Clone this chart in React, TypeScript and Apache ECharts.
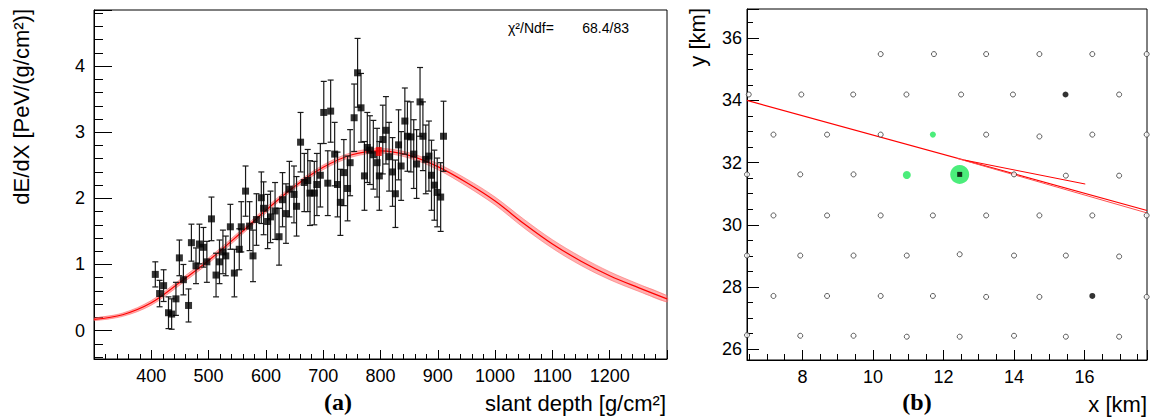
import React, { useEffect, useRef } from "react";
import * as echarts from "echarts";

// ---------- panel (a): longitudinal profile ----------
const depth = [
  407, 414.5, 421.5, 430, 435.5, 443, 449, 456, 465, 470, 478, 484, 491, 497, 505, 513, 519, 525, 530, 538,
  545, 553.5, 557, 564.5, 571.5, 577.5, 583.5, 592, 596, 603, 608, 616, 623, 629, 635, 641, 649, 653.5, 660.5, 667,
  673, 677, 684.5, 689, 695, 701, 708, 713, 720, 725, 730, 736, 742.5, 747, 754, 760, 766, 772, 777, 781.5,
  787.5, 794, 798, 804, 809.5, 815, 821, 826, 831.5, 836, 842.5, 847, 853, 858, 863, 869, 874, 879, 884.5, 889,
  894, 899, 905, 910,
];
const dedx = [
  0.85, 0.56, 0.68, 0.27, 0.25, 0.48, 1.1, 0.77, 0.38, 1.33, 0.98, 1.31, 1.26, 1.04, 1.69, 0.84, 1.04, 1.19, 1.13, 1.57,
  0.87, 1.23, 1.57, 2.11, 1.58, 1.13, 1.68, 2.01, 1.85, 1.65, 1.72, 1.81, 1.42, 1.98, 1.77, 2.14, 2.06, 1.88, 2.85, 2.24,
  2.27, 2.08, 2.08, 2.21, 2.35, 3.3, 2.23, 3.32, 2.67, 2.21, 1.94, 2.39, 2.15, 2.54, 3.22, 3.9, 3.37, 2.34, 2.77, 2.73,
  2.66, 2.54, 2.34, 2.89, 3.03, 2.63, 2.4, 2.07, 2.81, 2.49, 3.17, 2.94, 2.93, 2.67, 2.52, 3.46, 2.94, 2.59, 2.64, 2.35,
  2.2, 2.09, 2.02, 2.94,
];
const dedxErr = [
  0.19, 0.2, 0.24, 0.24, 0.23, 0.25, 0.27, 0.23, 0.25, 0.28, 0.27, 0.3, 0.3, 0.31, 0.33, 0.33, 0.33, 0.33, 0.3, 0.34,
  0.36, 0.31, 0.38, 0.38, 0.37, 0.39, 0.39, 0.39, 0.4, 0.41, 0.39, 0.43, 0.43, 0.41, 0.45, 0.42, 0.43, 0.45, 0.45, 0.44,
  0.47, 0.49, 0.48, 0.47, 0.48, 0.47, 0.49, 0.47, 0.48, 0.49, 0.5, 0.5, 0.49, 0.5, 0.51, 0.52, 0.52, 0.52, 0.53, 0.52,
  0.52, 0.52, 0.52, 0.52, 0.51, 0.52, 0.52, 0.51, 0.53, 0.52, 0.5, 0.53, 0.53, 0.52, 0.52, 0.52, 0.52, 0.52, 0.53, 0.53,
  0.53, 0.52, 0.52, 0.53,
];

// fitted profile and its uncertainty band
const fitDepth = [300, 350, 400, 450, 500, 550, 600, 650, 700, 750, 800, 850, 900, 950, 1000, 1050, 1100, 1150, 1200, 1250, 1300];
const fitValue = [0.17, 0.24, 0.42, 0.73, 1.06, 1.43, 1.82, 2.18, 2.47, 2.66, 2.72, 2.65, 2.48, 2.24, 1.96, 1.62, 1.31, 1.05, 0.83, 0.65, 0.48];
const fitBandHalf = [0.02, 0.025, 0.035, 0.04, 0.04, 0.04, 0.04, 0.035, 0.035, 0.035, 0.035, 0.04, 0.045, 0.055, 0.06, 0.065, 0.065, 0.065, 0.06, 0.055, 0.05];
const xmaxPoint = [797, 2.71];

const chi2Label = "χ²/Ndf=";
const chi2Value = "68.4/83";

// ---------- panel (b): footprint ----------
const openStations = [
  [10.22, 35.49], [11.73, 35.49], [13.21, 35.49], [14.72, 35.49], [16.22, 35.49], [17.76, 35.49],
  [6.48, 34.19], [7.97, 34.19], [9.44, 34.19], [10.95, 34.19], [12.5, 34.19], [13.97, 34.19], [16.98, 34.19],
  [7.18, 32.9], [8.7, 32.9], [10.22, 32.9], [13.21, 32.9], [14.72, 32.84], [16.22, 32.9], [17.76, 32.9],
  [6.43, 31.62], [7.94, 31.62], [9.45, 31.62], [14.0, 31.62], [15.47, 31.58], [16.98, 31.58],
  [7.18, 30.3], [8.7, 30.3], [10.22, 30.3], [11.7, 30.3], [13.21, 30.3], [14.72, 30.3], [16.22, 30.3], [17.76, 30.3],
  [6.43, 29.01], [7.94, 29.01], [9.45, 29.01], [10.96, 29.01], [12.46, 29.05], [14.0, 29.01], [15.47, 29.01], [16.98, 28.98],
  [7.18, 27.71], [8.7, 27.71], [10.22, 27.71], [11.7, 27.71], [13.21, 27.68], [14.72, 27.68], [17.76, 27.68],
  [6.43, 26.45], [7.94, 26.43], [9.45, 26.43], [10.96, 26.4], [12.46, 26.4], [14.0, 26.43], [15.47, 26.4], [16.98, 26.4],
];
const filledStations = [[15.46, 34.19], [16.22, 27.71]];
const greenStations = [[11.7, 32.9, 6], [10.96, 31.6, 8], [12.46, 31.62, 19]];
const coreStation = [12.46, 31.62];
const axisLineA = [[6.43, 34.0], [17.77, 30.46]];
const axisLineA2 = [[12.4, 32.13], [17.77, 30.38]];
const axisLineB = [[12.6, 32.08], [16.02, 31.31]];

const FONT = '"Liberation Sans", Arial, sans-serif';

export default function App() {
  const ref = useRef<HTMLDivElement>(null);
  useEffect(() => {
    if (!ref.current) return;
    const chart = echarts.init(ref.current, undefined, { renderer: "svg" });

    const fitLine = fitDepth.map((d, i) => [d, fitValue[i]]);
    const points = depth.map((d, i) => [d, dedx[i], dedxErr[i]]);

    const axisCommon = (tickLen: number, minorLen: number, minorSplit: number) => ({
      axisLine: { show: true, onZero: false, lineStyle: { color: "#000", width: 1 } },
      axisTick: { show: true, inside: true, length: tickLen, lineStyle: { color: "#000", width: 1 } },
      minorTick: { show: true, splitNumber: minorSplit, length: minorLen, lineStyle: { color: "#000", width: 1 } },
      splitLine: { show: false },
      minorSplitLine: { show: false },
    });
    const fmt = (v: number) => String(v);

    const option: any = {
      animation: false,
      backgroundColor: "#fff",
      grid: [
        { left: 94, top: 10, width: 573, height: 349, show: true, borderColor: "#000", borderWidth: 1, backgroundColor: "transparent" },
        { left: 747, top: 9, width: 400, height: 351, show: true, borderColor: "#000", borderWidth: 1, backgroundColor: "transparent" },
      ],
      xAxis: [
        {
          type: "value", gridIndex: 0, min: 300, max: 1300, interval: 100,
          ...axisCommon(9, 5, 5),
          axisLabel: { formatter: fmt, showMinLabel: false, showMaxLabel: false, fontSize: 18, color: "#000", fontFamily: FONT, margin: 8 },
        },
        {
          type: "value", gridIndex: 1, min: 6.43, max: 17.77, splitNumber: 5,
          ...axisCommon(10, 6, 4),
          axisLabel: { formatter: fmt, showMinLabel: false, showMaxLabel: false, fontSize: 18, color: "#000", fontFamily: FONT, margin: 8 },
        },
      ],
      yAxis: [
        {
          type: "value", gridIndex: 0, min: -0.43, max: 4.85, splitNumber: 5,
          ...axisCommon(18, 9, 5),
          axisLabel: { formatter: fmt, showMinLabel: false, showMaxLabel: false, fontSize: 18, color: "#000", fontFamily: FONT, margin: 9 },
        },
        {
          type: "value", gridIndex: 1, min: 25.65, max: 36.94, splitNumber: 5,
          ...axisCommon(12, 6, 4),
          axisLabel: { formatter: fmt, showMinLabel: false, showMaxLabel: false, fontSize: 18, color: "#000", fontFamily: FONT, margin: 5 },
        },
      ],
      series: [
        {
          type: "custom", xAxisIndex: 0, yAxisIndex: 0, data: fitLine, encode: { x: 0, y: 1 }, z: 2, silent: true,
          renderItem: (params: any, api: any) => {
            if (params.dataIndex !== 0) return null;
            const upper = fitDepth.map((d, i) => api.coord([d, fitValue[i] + fitBandHalf[i]]));
            const lower = fitDepth.map((d, i) => api.coord([d, fitValue[i] - fitBandHalf[i]])).reverse();
            return {
              type: "group",
              children: [
                { type: "polyline", shape: { points: upper, smooth: 0.35 }, style: { stroke: "rgba(255,80,80,0.6)", lineWidth: 0.8, fill: null } },
                { type: "polyline", shape: { points: lower, smooth: 0.35 }, style: { stroke: "rgba(255,80,80,0.6)", lineWidth: 0.8, fill: null } },
                { type: "polygon", shape: { points: [...upper, ...lower], smooth: 0.35 }, style: { fill: "rgba(255,100,100,0.5)", stroke: null } },
              ],
            };
          },
        },
        {
          type: "line", xAxisIndex: 0, yAxisIndex: 0, data: fitLine, smooth: 0.35, symbol: "none",
          lineStyle: { color: "#ff0000", width: 1.2 }, z: 3,
        },
        {
          type: "custom", xAxisIndex: 0, yAxisIndex: 0, data: points, encode: { x: 0, y: 1 }, z: 4,
          renderItem: (params: any, api: any) => {
            const x = api.value(0), y = api.value(1), e = api.value(2);
            const top = api.coord([x, y + e]);
            const bot = api.coord([x, y - e]);
            const st = { stroke: "#1a1a1a", lineWidth: 1.2 };
            return {
              type: "group",
              children: [
                { type: "line", shape: { x1: top[0], y1: top[1], x2: bot[0], y2: bot[1] }, style: st },
                { type: "line", shape: { x1: top[0] - 3, y1: top[1], x2: top[0] + 3, y2: top[1] }, style: st },
                { type: "line", shape: { x1: bot[0] - 3, y1: bot[1], x2: bot[0] + 3, y2: bot[1] }, style: st },
              ],
            };
          },
        },
        {
          type: "scatter", xAxisIndex: 0, yAxisIndex: 0, data: points.map((p) => [p[0], p[1]]),
          symbol: "rect", symbolSize: 7, itemStyle: { color: "#000" }, z: 5,
        },
        {
          type: "scatter", xAxisIndex: 0, yAxisIndex: 0, data: [xmaxPoint],
          symbol: "rect", symbolSize: [6, 9], itemStyle: { color: "#ff0000" }, z: 6,
        },
        // panel b
        {
          type: "line", xAxisIndex: 1, yAxisIndex: 1, data: axisLineA, symbol: "none",
          lineStyle: { color: "#ff0000", width: 1.2 }, z: 3,
        },
        {
          type: "line", xAxisIndex: 1, yAxisIndex: 1, data: axisLineA2, symbol: "none",
          lineStyle: { color: "#ff5050", width: 1 }, z: 3,
        },
        {
          type: "line", xAxisIndex: 1, yAxisIndex: 1, data: axisLineB, symbol: "none",
          lineStyle: { color: "#ff0000", width: 1 }, z: 3,
        },
        {
          type: "scatter", xAxisIndex: 1, yAxisIndex: 1, data: openStations, symbol: "circle", symbolSize: 5,
          itemStyle: { color: "#fff", borderColor: "#333", borderWidth: 1 }, z: 4,
        },
        {
          type: "scatter", xAxisIndex: 1, yAxisIndex: 1, data: filledStations, symbol: "circle", symbolSize: 6,
          itemStyle: { color: "#000" }, z: 4,
        },
        {
          type: "scatter", xAxisIndex: 1, yAxisIndex: 1, data: greenStations.map((g) => [g[0], g[1]]),
          symbol: "circle", symbolSize: (v: any, p: any) => greenStations[p.dataIndex][2],
          itemStyle: { color: "#1ee85a" }, z: 5,
        },
        {
          type: "scatter", xAxisIndex: 1, yAxisIndex: 1, data: [coreStation], symbol: "rect", symbolSize: 5,
          itemStyle: { color: "#000" }, z: 6,
        },
      ],
      graphic: [
        { type: "text", x: 21, y: 9, rotation: Math.PI / 2, style: { text: "dE/dX [PeV/(g/cm²)]", font: `22px ${FONT}`, fill: "#000", textAlign: "right", textVerticalAlign: "middle" } },
        { type: "text", x: 666, y: 403, style: { text: "slant depth [g/cm²]", font: `22px ${FONT}`, fill: "#000", textAlign: "right", textVerticalAlign: "middle" } },
        { type: "text", x: 338, y: 402, style: { text: "(a)", font: `bold 24px "Liberation Serif", serif`, fill: "#000", textAlign: "center", textVerticalAlign: "middle" } },
        { type: "text", x: 917, y: 402, style: { text: "(b)", font: `bold 24px "Liberation Serif", serif`, fill: "#000", textAlign: "center", textVerticalAlign: "middle" } },
        { type: "text", x: 697, y: 8, rotation: Math.PI / 2, style: { text: "y [km]", font: `22px ${FONT}`, fill: "#000", textAlign: "right", textVerticalAlign: "middle" } },
        { type: "text", x: 1147, y: 404, style: { text: "x [km]", font: `22px ${FONT}`, fill: "#000", textAlign: "right", textVerticalAlign: "middle" } },
        { type: "text", x: 508, y: 28, style: { text: chi2Label, font: `14px ${FONT}`, fill: "#000", textAlign: "left", textVerticalAlign: "middle" } },
        { type: "text", x: 629, y: 28, style: { text: chi2Value, font: `14px ${FONT}`, fill: "#000", textAlign: "right", textVerticalAlign: "middle" } },
      ],
    };
    chart.setOption(option);
    return () => chart.dispose();
  }, []);
  return <div ref={ref} style={{ position: "absolute", left: 0, top: 0, width: 1150, height: 419 }} />;
}
